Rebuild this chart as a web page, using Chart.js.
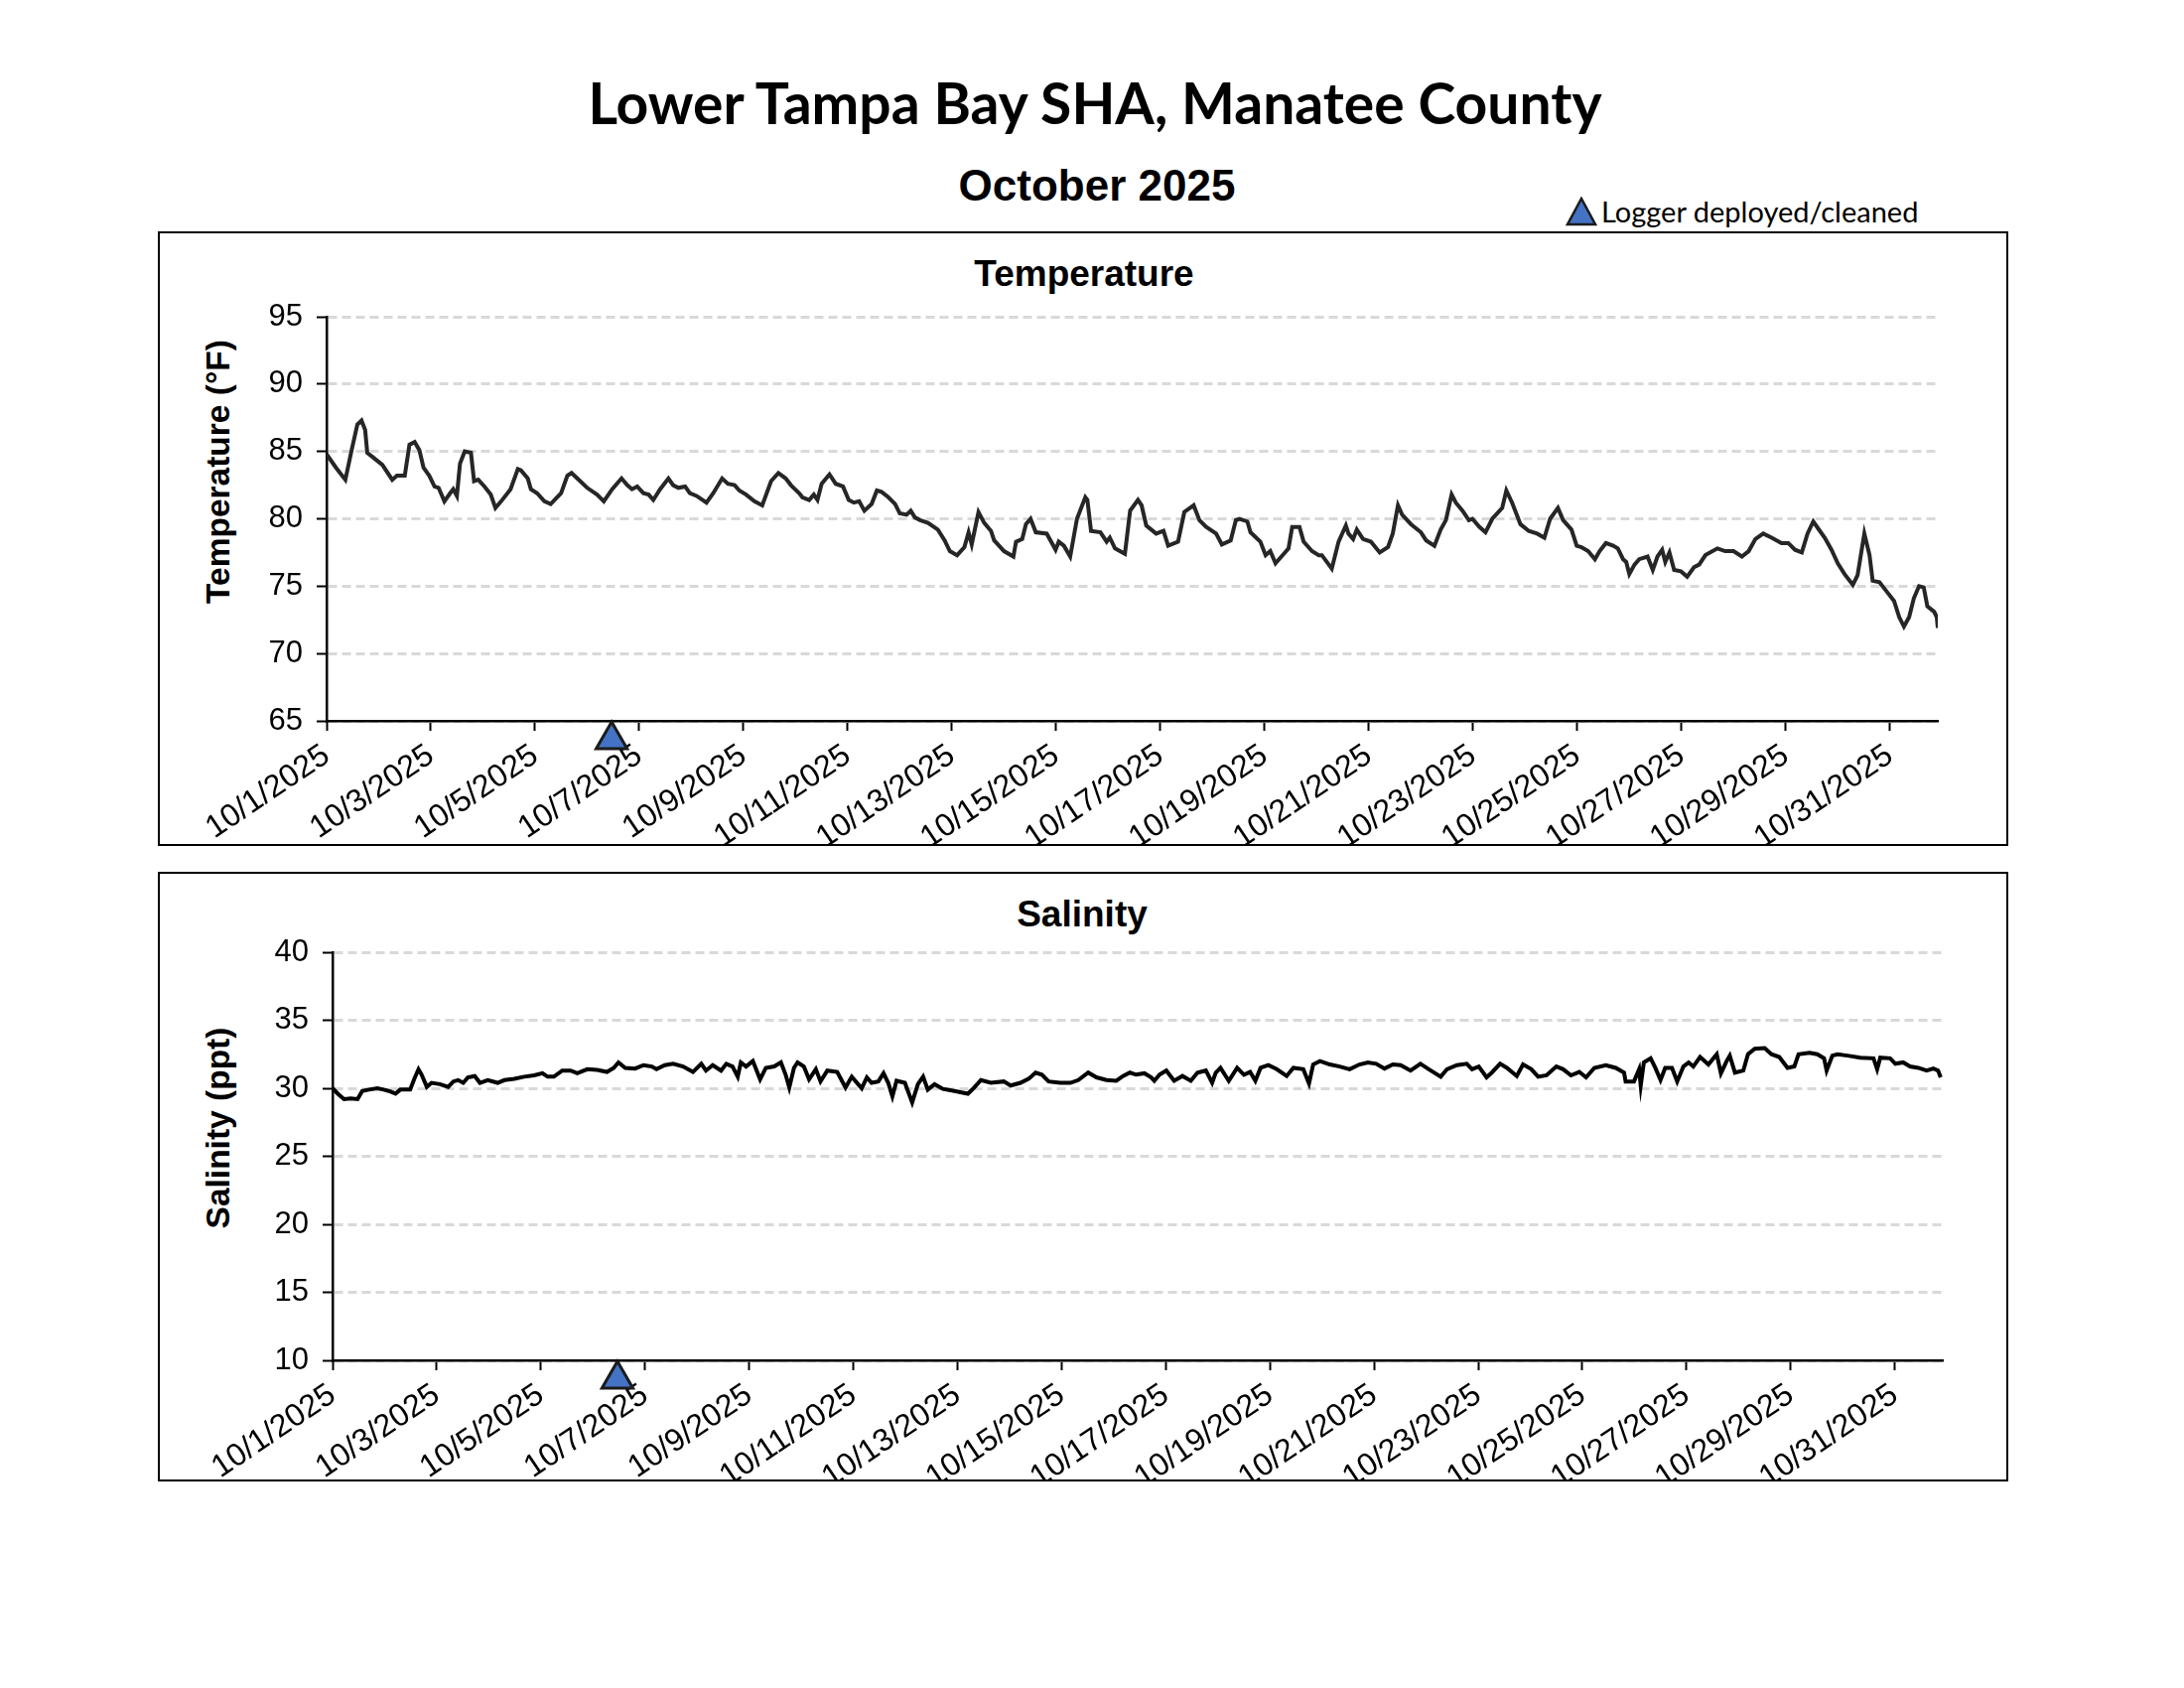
<!DOCTYPE html>
<html>
<head>
<meta charset="utf-8">
<script src="https://cdn.jsdelivr.net/npm/chart.js@4.4.1/dist/chart.umd.min.js"></script>
<style>
  body { margin: 0; background: #fff; width: 2200px; height: 1700px; position: relative; overflow: hidden; color: #000; font-family: 'Liberation Sans', Arial, sans-serif; }
  .abs { position: absolute; white-space: nowrap; }
  .center { transform: translate(-50%, -50%); }
  #mainTitle { left: 1103px; top: 103px; font: bold 57px Lato, sans-serif; }
  #subTitle { left: 1105px; top: 187px; font: bold 44px 'Liberation Sans', Arial, sans-serif; }
  #legend { left: 1577px; top: 195px; font: 29px Lato, sans-serif; display: flex; align-items: center; }
  #legend svg { margin-right: 4px; }
  .box { position: absolute; left: 159px; width: 1864px; border: 2px solid #000; box-sizing: border-box; }
  .panelTitle { font: bold 37px 'Liberation Sans', Arial, sans-serif; }
  .axisTitle { font: bold 33.5px 'Liberation Sans', Arial, sans-serif; transform: translate(-50%, -50%) rotate(-90deg); }
  .wrap { position: absolute; left: 159px; width: 1864px; }
</style>
</head>
<body>
<div id="mainTitle" class="abs center">Lower Tampa Bay SHA, Manatee County</div>
<div id="subTitle" class="abs center">October 2025</div>
<div id="legend" class="abs">
  <svg width="32" height="30" viewBox="0 0 32 30"><polygon points="16,2 30,28 2,28" fill="#4472C4" stroke="#1b1b1b" stroke-width="2.5"/></svg>
  <span>Logger deployed/cleaned</span>
</div>

<div class="box" style="top:233px;height:619px;"></div>
<div class="abs center panelTitle" style="left:1092px;top:276px;">Temperature</div>
<div class="abs axisTitle" style="left:220px;top:475px;">Temperature (°F)</div>
<div class="wrap" style="top:233px;height:619px;"><canvas id="tempChart"></canvas></div>

<div class="box" style="top:878px;height:614px;"></div>
<div class="abs center panelTitle" style="left:1090px;top:921px;">Salinity</div>
<div class="abs axisTitle" style="left:220px;top:1136px;">Salinity (ppt)</div>
<div class="wrap" style="top:878px;height:614px;"><canvas id="salChart"></canvas></div>

<script>
// x values are days since 10/1/2025 00:00
const dateLabels = ['10/1/2025', '10/3/2025', '10/5/2025', '10/7/2025', '10/9/2025', '10/11/2025', '10/13/2025', '10/15/2025',
  '10/17/2025', '10/19/2025', '10/21/2025', '10/23/2025', '10/25/2025', '10/27/2025', '10/29/2025', '10/31/2025'];
const lastDay = 30.92;
const loggerDays = [5.47];

const tempDay = [
  0, 0.18, 0.36, 0.48, 0.59, 0.67, 0.74, 0.78, 0.88, 1.07,
  1.26, 1.35, 1.50, 1.59, 1.69, 1.78, 1.86, 1.97, 2.07, 2.15,
  2.26, 2.37, 2.43, 2.50, 2.56, 2.65, 2.77, 2.83, 2.91, 3.03,
  3.15, 3.24, 3.35, 3.53, 3.67, 3.73, 3.86, 3.92, 4.04, 4.18,
  4.30, 4.50, 4.62, 4.70, 4.81, 5.00, 5.19, 5.32, 5.48, 5.66,
  5.77, 5.86, 5.96, 6.08, 6.18, 6.27, 6.40, 6.56, 6.65, 6.75,
  6.88, 6.97, 7.10, 7.29, 7.42, 7.59, 7.70, 7.83, 7.92, 8.05,
  8.21, 8.36, 8.53, 8.67, 8.81, 8.91, 9.07, 9.13, 9.26, 9.35,
  9.42, 9.50, 9.65, 9.77, 9.91, 10.02, 10.12, 10.22, 10.32, 10.46,
  10.56, 10.65, 10.78, 10.91, 11.00, 11.13, 11.21, 11.29, 11.39, 11.54,
  11.73, 11.86, 11.96, 12.10, 12.24, 12.32, 12.38, 12.51, 12.62, 12.75,
  12.81, 13.00, 13.18, 13.23, 13.35, 13.42, 13.51, 13.61, 13.82, 13.99,
  14.05, 14.15, 14.27, 14.40, 14.56, 14.60, 14.67, 14.85, 14.97, 15.03,
  15.13, 15.32, 15.42, 15.57, 15.64, 15.73, 15.92, 16.06, 16.15, 16.34,
  16.46, 16.64, 16.75, 16.88, 17.07, 17.18, 17.35, 17.45, 17.52, 17.67,
  17.73, 17.92, 18.02, 18.11, 18.21, 18.37, 18.46, 18.53, 18.67, 18.75,
  18.91, 19.04, 19.10, 19.29, 19.42, 19.56, 19.61, 19.70, 19.77, 19.89,
  20.04, 20.21, 20.37, 20.46, 20.56, 20.64, 20.81, 21.00, 21.10, 21.26,
  21.38, 21.48, 21.59, 21.67, 21.80, 21.92, 21.99, 22.12, 22.24, 22.37,
  22.56, 22.64, 22.75, 22.85, 22.91, 23.07, 23.23, 23.37, 23.48, 23.63,
  23.73, 23.89, 23.99, 24.08, 24.21, 24.34, 24.43, 24.55, 24.69, 24.78,
  24.88, 24.94, 25.00, 25.10, 25.19, 25.35, 25.45, 25.54, 25.63, 25.69,
  25.77, 25.86, 25.99, 26.11, 26.24, 26.34, 26.46, 26.69, 26.84, 27.00,
  27.16, 27.29, 27.42, 27.57, 27.73, 27.92, 28.05, 28.18, 28.31, 28.42,
  28.53, 28.62, 28.75, 28.88, 29.00, 29.13, 29.29, 29.38, 29.51, 29.61,
  29.67, 29.80, 29.96, 30.08, 30.18, 30.27, 30.37, 30.46, 30.56, 30.65,
  30.72, 30.85, 30.90, 30.92
];
const tempF = [
  84.8, 83.8, 82.9, 85.1, 87.0, 87.3, 86.6, 84.9, 84.6, 84.0,
  82.9, 83.2, 83.2, 85.5, 85.7, 85.1, 83.8, 83.2, 82.4, 82.3,
  81.3, 81.9, 82.2, 81.7, 84.1, 85.0, 84.9, 82.8, 82.9, 82.4,
  81.8, 80.8, 81.3, 82.2, 83.7, 83.6, 83.0, 82.2, 81.9, 81.3,
  81.1, 81.9, 83.2, 83.4, 83.0, 82.3, 81.8, 81.3, 82.2, 83.0,
  82.5, 82.2, 82.4, 81.9, 81.8, 81.4, 82.2, 83.0, 82.5, 82.3,
  82.4, 81.9, 81.7, 81.2, 81.9, 83.0, 82.6, 82.5, 82.1, 81.8,
  81.3, 81.0, 82.8, 83.4, 83.0, 82.5, 81.9, 81.6, 81.4, 81.8,
  81.4, 82.6, 83.3, 82.6, 82.4, 81.4, 81.2, 81.3, 80.6, 81.1,
  82.1, 82.0, 81.6, 81.1, 80.4, 80.3, 80.6, 80.1, 79.9, 79.7,
  79.2, 78.4, 77.6, 77.3, 77.9, 79.0, 78.1, 80.5, 79.7, 79.1,
  78.4, 77.6, 77.2, 78.3, 78.5, 79.6, 80.0, 79.0, 78.9, 77.7,
  78.3, 78.0, 77.2, 80.0, 81.6, 81.4, 79.1, 79.0, 78.3, 78.6,
  77.8, 77.4, 80.6, 81.4, 81.0, 79.5, 78.9, 79.1, 78.0, 78.3,
  80.5, 81.0, 79.9, 79.4, 78.9, 78.1, 78.4, 79.9, 80.0, 79.8,
  79.0, 78.3, 77.3, 77.6, 76.7, 77.4, 77.8, 79.4, 79.4, 78.3,
  77.6, 77.3, 77.3, 76.3, 78.3, 79.5, 78.9, 78.5, 79.2, 78.5,
  78.3, 77.5, 77.9, 78.9, 81.0, 80.3, 79.6, 79.0, 78.4, 78.0,
  79.2, 79.9, 81.8, 81.2, 80.6, 79.9, 80.0, 79.4, 79.0, 80.0,
  80.8, 82.1, 81.2, 80.2, 79.6, 79.1, 78.9, 78.6, 80.0, 80.8,
  79.9, 79.2, 78.0, 77.9, 77.6, 77.0, 77.6, 78.2, 78.0, 77.8,
  77.0, 76.8, 75.9, 76.6, 77.0, 77.2, 76.2, 77.2, 77.7, 76.8,
  77.5, 76.2, 76.1, 75.7, 76.4, 76.6, 77.3, 77.8, 77.6, 77.6,
  77.2, 77.6, 78.5, 78.9, 78.6, 78.2, 78.2, 77.7, 77.5, 78.9,
  79.8, 79.3, 78.6, 77.7, 76.7, 75.9, 75.1, 75.8, 78.9, 77.3,
  75.4, 75.3, 74.5, 73.9, 72.7, 72.0, 72.7, 74.1, 75.0, 74.9,
  73.5, 73.1, 72.7, 71.9
];

const salDay = [
  0.00, 0.10, 0.22, 0.35, 0.48, 0.57, 0.70, 0.86, 0.98, 1.08,
  1.21, 1.30, 1.49, 1.57, 1.65, 1.71, 1.81, 1.90, 2.06, 2.22,
  2.32, 2.41, 2.51, 2.60, 2.73, 2.83, 2.98, 3.17, 3.30, 3.49,
  3.68, 3.87, 4.03, 4.13, 4.25, 4.41, 4.57, 4.70, 4.89, 5.08,
  5.27, 5.40, 5.49, 5.62, 5.81, 5.97, 6.13, 6.22, 6.38, 6.54,
  6.73, 6.92, 7.08, 7.17, 7.30, 7.46, 7.56, 7.68, 7.78, 7.84,
  7.94, 8.07, 8.21, 8.32, 8.48, 8.61, 8.70, 8.77, 8.86, 8.93,
  9.05, 9.15, 9.28, 9.37, 9.50, 9.69, 9.85, 9.97, 10.16, 10.26,
  10.35, 10.48, 10.58, 10.67, 10.75, 10.83, 10.99, 11.13, 11.24, 11.34,
  11.43, 11.56, 11.72, 11.94, 12.20, 12.32, 12.45, 12.64, 12.89, 13.02,
  13.21, 13.37, 13.50, 13.62, 13.75, 13.97, 14.17, 14.32, 14.51, 14.67,
  14.86, 15.05, 15.18, 15.31, 15.43, 15.59, 15.72, 15.78, 15.88, 16.01,
  16.16, 16.32, 16.48, 16.61, 16.77, 16.89, 16.96, 17.05, 17.21, 17.37,
  17.50, 17.62, 17.72, 17.82, 17.97, 18.13, 18.32, 18.45, 18.64, 18.75,
  18.83, 18.96, 19.15, 19.34, 19.53, 19.72, 19.88, 20.04, 20.20, 20.36,
  20.51, 20.70, 20.89, 21.05, 21.28, 21.40, 21.59, 21.78, 21.88, 22.01,
  22.16, 22.26, 22.42, 22.55, 22.74, 22.86, 23.02, 23.15, 23.31, 23.50,
  23.63, 23.78, 23.94, 24.07, 24.23, 24.45, 24.64, 24.80, 24.83, 24.99,
  25.09, 25.12, 25.18, 25.31, 25.40, 25.50, 25.59, 25.72, 25.82, 25.94,
  26.04, 26.13, 26.26, 26.42, 26.58, 26.66, 26.77, 26.83, 26.93, 27.09,
  27.18, 27.31, 27.50, 27.63, 27.78, 27.94, 28.07, 28.15, 28.36, 28.51,
  28.64, 28.69, 28.80, 28.90, 29.09, 29.34, 29.59, 29.66, 29.72, 29.91,
  30.01, 30.16, 30.29, 30.45, 30.61, 30.74, 30.83, 30.88
];
const salPpt = [
  30.0, 29.6, 29.2, 29.25, 29.2, 29.8, 29.9, 30.0, 29.9, 29.8,
  29.6, 29.9, 29.9, 30.7, 31.4, 31.0, 30.1, 30.4, 30.3, 30.1,
  30.5, 30.6, 30.4, 30.8, 30.9, 30.4, 30.6, 30.4, 30.6, 30.7,
  30.85, 30.95, 31.1, 30.85, 30.85, 31.3, 31.3, 31.1, 31.4, 31.35,
  31.2, 31.5, 31.9, 31.5, 31.45, 31.7, 31.6, 31.4, 31.7, 31.8,
  31.6, 31.2, 31.8, 31.3, 31.7, 31.3, 31.8, 31.6, 30.85, 31.9,
  31.6, 32.0, 30.65, 31.5, 31.6, 31.9, 31.0, 30.05, 31.5, 31.9,
  31.6, 30.65, 31.4, 30.5, 31.3, 31.2, 30.05, 30.85, 30.0, 30.8,
  30.4, 30.5, 31.1, 30.4, 29.4, 30.55, 30.4, 28.95, 30.3, 30.85,
  29.9, 30.3, 29.95, 29.8, 29.6, 30.05, 30.6, 30.4, 30.5, 30.2,
  30.4, 30.7, 31.15, 31.0, 30.5, 30.4, 30.4, 30.6, 31.15, 30.8,
  30.6, 30.55, 30.9, 31.15, 31.0, 31.1, 30.8, 30.55, 31.0, 31.3,
  30.55, 30.9, 30.55, 31.15, 31.3, 30.4, 31.15, 31.5, 30.55, 31.5,
  31.0, 31.2, 30.55, 31.5, 31.7, 31.4, 30.9, 31.5, 31.4, 30.35,
  31.75, 32.0, 31.75, 31.6, 31.4, 31.75, 31.9, 31.8, 31.45, 31.75,
  31.7, 31.3, 31.8, 31.4, 30.85, 31.4, 31.7, 31.8, 31.4, 31.6,
  30.8, 31.15, 31.8, 31.5, 30.9, 31.75, 31.4, 30.85, 30.95, 31.6,
  31.4, 30.95, 31.2, 30.8, 31.5, 31.7, 31.5, 31.15, 30.5, 30.5,
  31.4, 30.2, 31.9, 32.2, 31.5, 30.6, 31.5, 31.5, 30.5, 31.6,
  31.9, 31.6, 32.3, 31.75, 32.5, 31.1, 32.0, 32.4, 31.15, 31.3,
  32.5, 32.9, 32.95, 32.5, 32.3, 31.5, 31.6, 32.5, 32.6, 32.5,
  32.2, 31.3, 32.4, 32.5, 32.4, 32.25, 32.2, 31.4, 32.25, 32.2,
  31.8, 31.9, 31.6, 31.5, 31.3, 31.45, 31.3, 30.8
];

const tempTicks = { min: 65, max: 95, step: 5 };
const salTicks = { min: 10, max: 40, step: 5 };

Chart.defaults.font.family = "'Liberation Sans', Arial, sans-serif";
Chart.defaults.color = '#000';

// blue triangle under the x axis where the logger was serviced
const loggerMarker = {
  id: 'loggerMarker',
  afterDraw(chart) {
    const { ctx, chartArea, scales } = chart;
    const r = 18;
    loggerDays.forEach(d => {
      const x = scales.x.getPixelForValue(d);
      const y = chartArea.bottom + r + 1;
      ctx.save();
      ctx.beginPath();
      ctx.moveTo(x, y - r);
      ctx.lineTo(x + r * 0.866, y + r / 2);
      ctx.lineTo(x - r * 0.866, y + r / 2);
      ctx.closePath();
      ctx.fillStyle = '#4472C4';
      ctx.fill();
      ctx.lineWidth = 3;
      ctx.strokeStyle = '#1b1b1b';
      ctx.stroke();
      ctx.restore();
    });
  }
};

function makeChart(canvasId, days, values, range, lineColor, box) {
  return new Chart(document.getElementById(canvasId), {
    type: 'line',
    data: {
      datasets: [{
        data: days.map((d, i) => ({ x: d, y: values[i] })),
        borderColor: lineColor,
        borderWidth: 4,
        pointRadius: 0,
        tension: 0,
        fill: false
      }]
    },
    options: {
      responsive: true,
      maintainAspectRatio: false,
      animation: false,
      layout: { padding: { top: box.top, right: box.right, bottom: 0, left: 0 } },
      plugins: { legend: { display: false }, tooltip: { enabled: false } },
      scales: {
        x: {
          type: 'linear', min: 0, max: lastDay,
          afterFit: s => { s.height = box.xh; },
          border: { color: '#000', width: 2.5 },
          grid: { drawOnChartArea: false, tickLength: 10, tickColor: '#000', tickWidth: 2 },
          ticks: {
            stepSize: 2, includeBounds: false, autoSkip: false,
            minRotation: 34, maxRotation: 34, padding: 6,
            font: { size: 32 },
            callback: (v, i) => dateLabels[i]
          }
        },
        y: {
          min: range.min, max: range.max,
          afterFit: s => { s.width = box.yw; },
          border: { color: '#000', width: 2.5, dash: [9, 5] },
          grid: { color: '#D9D9D9', lineWidth: 3, tickColor: '#000', tickWidth: 2, tickLength: 10, tickBorderDash: [] },
          ticks: { stepSize: range.step, padding: 14, font: { size: 31 } }
        }
      }
    },
    plugins: [loggerMarker]
  });
}

makeChart('tempChart', tempDay, tempF, tempTicks, '#262626', { top: 86, right: 71, xh: 126, yw: 170 });
makeChart('salChart', salDay, salPpt, salTicks, '#000000', { top: 81, right: 66, xh: 122, yw: 176 });
</script>
</body>
</html>
